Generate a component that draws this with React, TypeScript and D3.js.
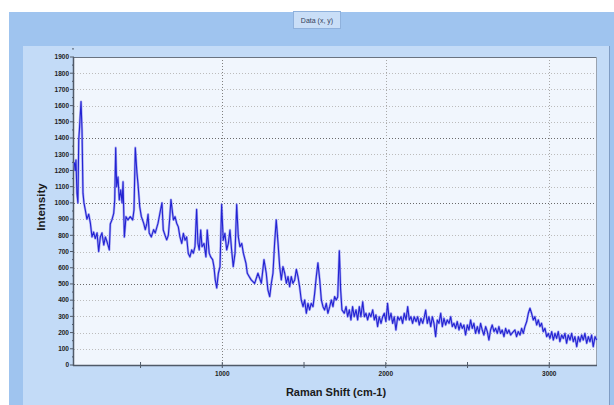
import React from 'react';
import * as d3 from 'd3';

// Raman spectrum
const ramanShift = [
  95, 100, 105, 111, 117, 122, 126, 136, 142, 148,
  154, 162, 172, 183, 193, 203, 213, 223, 234, 244,
  254, 264, 275, 285, 295, 301, 309, 315, 325, 336,
  342, 348, 354, 362, 370, 379, 387, 393, 401, 411,
  423, 437, 452, 460, 468, 478, 484, 495, 505, 519,
  529, 539, 546, 553, 566, 580, 590, 607, 621, 631,
  639, 650, 660, 670, 678, 686, 701, 711, 721, 731,
  741, 752, 762, 772, 782, 792, 802, 813, 823, 833,
  843, 851, 859, 868, 876, 888, 900, 908, 920, 929,
  941, 949, 957, 966, 976, 986, 996, 1006, 1016, 1027,
  1037, 1047, 1057, 1067, 1078, 1088, 1098, 1108, 1119, 1129,
  1145, 1153, 1165, 1177, 1198, 1218, 1239, 1255, 1269, 1279,
  1290, 1300, 1310, 1320, 1330, 1341, 1351, 1361, 1371, 1382,
  1392, 1402, 1412, 1422, 1432, 1443, 1453, 1463, 1473, 1483,
  1494, 1504, 1514, 1524, 1534, 1544, 1555, 1565, 1575, 1585,
  1596, 1606, 1616, 1626, 1636, 1646, 1657, 1667, 1677, 1687,
  1697, 1706, 1716, 1724, 1732, 1746, 1757, 1767, 1777, 1787,
  1797, 1807, 1818, 1828, 1838, 1848, 1859, 1869, 1879, 1889,
  1899, 1909, 1920, 1930, 1940, 1950, 1960, 1971, 1981, 1991,
  2001, 2011, 2021, 2032, 2042, 2052, 2062, 2073, 2083, 2093,
  2103, 2113, 2124, 2134, 2144, 2154, 2164, 2174, 2185, 2195,
  2205, 2215, 2226, 2236, 2244, 2254, 2264, 2275, 2285, 2295,
  2305, 2315, 2325, 2336, 2346, 2356, 2366, 2376, 2387, 2397,
  2407, 2417, 2427, 2437, 2448, 2458, 2468, 2478, 2488, 2499,
  2509, 2519, 2529, 2539, 2549, 2560, 2570, 2580, 2590, 2600,
  2611, 2621, 2631, 2641, 2651, 2662, 2672, 2682, 2692, 2702,
  2712, 2723, 2733, 2743, 2753, 2764, 2775, 2790, 2800, 2810,
  2821, 2831, 2841, 2851, 2862, 2872, 2882, 2892, 2902, 2912,
  2923, 2933, 2943, 2953, 2963, 2974, 2984, 2994, 3004, 3015,
  3025, 3035, 3045, 3055, 3065, 3076, 3086, 3096, 3106, 3116,
  3127, 3137, 3147, 3157, 3168, 3178, 3188, 3198, 3208, 3218,
  3229, 3239, 3249, 3259, 3269, 3280, 3290,
];

const intensity = [
  1250, 1200, 1265, 1060, 1000, 1390, 1450, 1625, 1450, 1060,
  1000, 957, 900, 930, 877, 790, 820, 780, 815, 700,
  790, 815, 740, 790, 760, 740, 710, 870, 895, 936,
  1018, 1340, 1100, 1160, 1018, 1080, 1000, 1130, 790, 915,
  895, 915, 895, 957, 1340, 1185, 1122, 977, 915, 875,
  835, 875, 930, 815, 790, 835, 815, 875, 950, 1000,
  833, 800, 772, 800, 900, 1020, 895, 915, 875, 852,
  790, 750, 812, 770, 790, 688, 667, 710, 690, 730,
  960, 750, 710, 833, 730, 750, 667, 833, 690, 667,
  650, 607, 525, 475, 566, 607, 990, 770, 812, 710,
  750, 833, 710, 607, 690, 990, 790, 730, 750, 690,
  627, 566, 545, 525, 504, 566, 504, 650, 566, 463,
  422, 504, 566, 751, 895, 751, 607, 525, 607, 566,
  504, 545, 483, 545, 504, 525, 590, 545, 483, 401,
  360, 401, 319, 380, 340, 380, 360, 442, 545, 630,
  525, 401, 360, 340, 380, 319, 360, 401, 360, 422,
  401, 420, 705, 463, 340, 319, 360, 298, 340, 278,
  360, 298, 340, 278, 360, 298, 390, 298, 319, 278,
  319, 298, 340, 278, 309, 237, 298, 257, 298, 319,
  268, 380, 278, 319, 257, 298, 216, 298, 278, 298,
  257, 319, 278, 360, 278, 298, 257, 298, 268, 298,
  247, 288, 257, 298, 339, 257, 298, 237, 298, 257,
  175, 278, 257, 319, 237, 288, 247, 278, 257, 298,
  237, 257, 226, 268, 216, 257, 226, 247, 185, 247,
  216, 278, 226, 257, 195, 237, 195, 257, 216, 185,
  237, 206, 154, 216, 247, 206, 226, 195, 237, 195,
  216, 175, 226, 195, 216, 185, 200, 216, 175, 206,
  185, 226, 195, 237, 268, 319, 350, 319, 278, 298,
  247, 278, 237, 257, 206, 226, 175, 195, 164, 206,
  154, 195, 164, 206, 144, 185, 164, 195, 134, 185,
  154, 195, 144, 175, 113, 175, 144, 185, 154, 195,
  134, 175, 144, 185, 113, 175, 154,
];

const yTicks = d3.range(0, 2000, 100);
const xTicks = [500, 1000, 1500, 2000, 2500, 3000];
const xLabels = [1000, 2000, 3000];
const darkGrid = [500, 1000, 1400];

const W = 614;
const H = 405;
const plot = { left: 74, right: 597, top: 57, bottom: 365 };
const tickFont = '"Liberation Sans", Arial, sans-serif';

export default function App() {
  const x = d3.scaleLinear().domain([93, 3292]).range([plot.left, plot.right]);
  const y = d3.scaleLinear().domain([0, 1900]).range([plot.bottom, plot.top]);

  const points = ramanShift.map((s, i) => [s, intensity[i]] as [number, number]);
  const line = d3.line<[number, number]>()
    .x(d => x(d[0]))
    .y(d => y(d[1]));
  const path = line(points) || '';

  return (
    <svg width={W} height={H} style={{ position: 'absolute', left: 0, top: 0 }}>
      <rect x={0} y={0} width={W} height={H} fill="#ffffff" />
      <rect x={9} y={12} width={W - 9} height={H - 12} fill="#9fc4ef" />
      <rect x={23} y={46} width={586} height={H - 46} fill="#c3dbf7" />
      <line x1={609.5} y1={46} x2={609.5} y2={H} stroke="#7f9cc4" />

      {/* title box */}
      <rect x={293.5} y={11.5} width={47} height={17} fill="#c9def7" stroke="#8fb1dc" />
      <text x={317} y={22.5} textAnchor="middle" fontFamily={tickFont} fontSize={7} fill="#34405a">
        Data (x, y)
      </text>

      {/* plot background */}
      <rect x={plot.left} y={plot.top} width={plot.right - plot.left} height={plot.bottom - plot.top} fill="#f1f6fd" />

      {/* grid */}
      {yTicks.filter(t => t > 0).map(t => (
        <line key={'gy' + t} x1={plot.left} x2={plot.right} y1={Math.round(y(t)) + 0.5} y2={Math.round(y(t)) + 0.5}
          stroke={darkGrid.includes(t) ? '#6a6a6a' : '#bcbcbc'} strokeDasharray="1,2" />
      ))}
      {xLabels.map(t => (
        <line key={'gx' + t} x1={Math.round(x(t)) + 0.5} x2={Math.round(x(t)) + 0.5} y1={plot.top} y2={plot.bottom}
          stroke={t === 1000 ? '#808080' : '#a8a8a8'} strokeDasharray="1,2" />
      ))}

      {/* frame */}
      <line x1={plot.left} x2={plot.right} y1={plot.top + 0.5} y2={plot.top + 0.5} stroke="#6a7380" />
      <line x1={plot.right - 0.5} x2={plot.right - 0.5} y1={plot.top} y2={plot.bottom} stroke="#9aa3b0" />
      <line x1={plot.left - 0.5} x2={plot.left - 0.5} y1={plot.top} y2={plot.bottom + 1} stroke="#505a68" strokeWidth={1.5} />
      <line x1={plot.left - 1} x2={plot.right} y1={plot.bottom + 0.5} y2={plot.bottom + 0.5} stroke="#505a68" strokeWidth={1.5} />

      {/* spectrum */}
      <path d={path} fill="none" stroke="#8c8cf0" strokeWidth={2.4} strokeLinejoin="round" opacity={0.7} />
      <path d={path} fill="none" stroke="#2323d2" strokeWidth={1.1} strokeLinejoin="round" />

      {/* y axis ticks */}
      {yTicks.map(t => (
        <g key={'yt' + t}>
          <line x1={plot.left - 4} x2={plot.left} y1={y(t)} y2={y(t)} stroke="#505a68" />
          <line x1={plot.left - 2} x2={plot.left} y1={y(t + 50)} y2={y(t + 50)} stroke="#505a68" />
          <text x={plot.left - 5} y={y(t) + 2.3} textAnchor="end" fontFamily={tickFont} fontWeight="bold" fontSize={6.5} fill="#222">
            {t}
          </text>
        </g>
      ))}

      {/* x axis ticks */}
      {xTicks.map(t => (
        <line key={'xt' + t} x1={x(t)} x2={x(t)} y1={plot.bottom - 3} y2={plot.bottom + 3} stroke="#505a68" />
      ))}
      {xLabels.map(t => (
        <text key={'xl' + t} x={x(t)} y={plot.bottom + 11} textAnchor="middle" fontFamily={tickFont} fontWeight="bold" fontSize={6.5} fill="#222">
          {t}
        </text>
      ))}

      <text x={336} y={396} textAnchor="middle" fontFamily={tickFont} fontWeight="bold" fontSize={11} fill="#1a1a1a">
        Raman Shift (cm-1)
      </text>
      <text transform="translate(45,207) rotate(-90)" textAnchor="middle" fontFamily={tickFont} fontWeight="bold" fontSize={11.5} fill="#1a1a1a">
        Intensity
      </text>
    </svg>
  );
}
